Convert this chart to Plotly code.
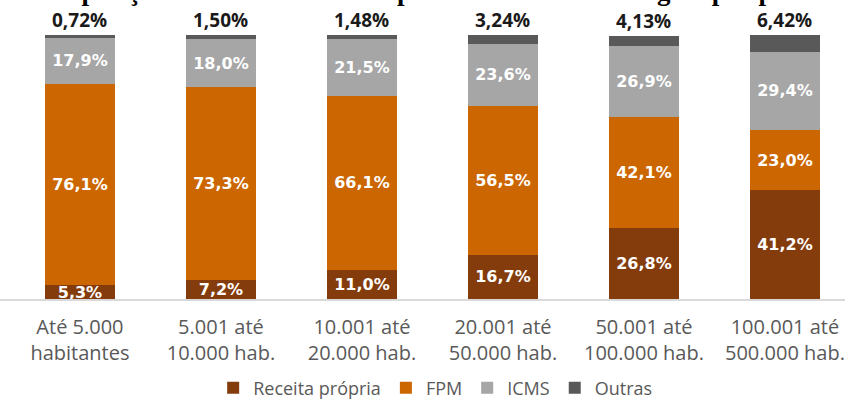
import plotly.graph_objects as go

categories = ["Até 5.000<br>habitantes", "5.001 até<br>10.000 hab.", "10.001 até<br>20.000 hab.",
              "20.001 até<br>50.000 hab.", "50.001 até<br>100.000 hab.", "100.001 até<br>500.000 hab."]
receita_propria = [5.3, 7.2, 11.0, 16.7, 26.8, 41.2]
fpm = [76.1, 73.3, 66.1, 56.5, 42.1, 23.0]
icms = [17.9, 18.0, 21.5, 23.6, 26.9, 29.4]
outras = [0.72, 1.50, 1.48, 3.24, 4.13, 6.42]
title_text = "Composição da receita corrente por tamanho da sua região por porte"

colors = {"Receita própria": "#843C0C", "FPM": "#CC6600", "ICMS": "#A6A6A6", "Outras": "#595959"}
xs = list(range(len(categories)))

fig = go.Figure()
inside_font = dict(family="DejaVu Sans", size=16, color="white")
for name, vals in [("Receita própria", receita_propria), ("FPM", fpm), ("ICMS", icms)]:
    fig.add_trace(go.Bar(
        x=xs, y=vals, name=name, width=0.5,
        marker=dict(color=colors[name], line=dict(width=0)),
        texttemplate="<b>%{y:.1f}%</b>", textposition="inside", insidetextanchor="middle",
        textangle=0, constraintext="none", textfont=inside_font, cliponaxis=False,
        hoverinfo="skip",
    ))
fig.add_trace(go.Bar(
    x=xs, y=outras, name="Outras", width=0.5,
    marker=dict(color=colors["Outras"], line=dict(width=0)),
    hoverinfo="skip",
))

for i in xs:
    total = receita_propria[i] + fpm[i] + icms[i] + outras[i]
    fig.add_annotation(
        x=i, y=total, xref="x", yref="y", yanchor="bottom", yshift=0,
        text="<b>" + f"{outras[i]:.2f}".replace(".", ",") + "%</b>",
        showarrow=False, font=dict(family="Open Sans", size=19, color="#1a1a1a"),
    )

fig.add_annotation(
    x=0.5, xref="paper", y=1.103, yref="paper", yanchor="bottom", xanchor="center",
    text="<b>" + title_text + "</b>", showarrow=False,
    font=dict(family="Liberation Serif", size=27, color="black"),
)

fig.update_layout(
    barmode="stack",
    width=845, height=400,
    margin=dict(l=0, r=0, t=35, b=101),
    paper_bgcolor="white", plot_bgcolor="white",
    separators=",.",
    showlegend=True,
    legend=dict(orientation="h", x=0.515, xanchor="center", xref="container",
                y=0.03, yanchor="middle", yref="container",
                font=dict(family="Open Sans", size=18, color="#595959"),
                traceorder="normal", itemwidth=30),
    xaxis=dict(
        range=[-0.567, 5.426], tickmode="array", tickvals=xs, ticktext=categories,
        showline=True, linecolor="#D9D9D9", linewidth=2, showgrid=False, zeroline=False,
        ticks="outside", ticklen=9, tickcolor="rgba(0,0,0,0)",
        tickfont=dict(family="Open Sans", size=20, color="#595959"),
        automargin=False,
    ),
    yaxis=dict(range=[0, 100.12], visible=False, showgrid=False, zeroline=False),
)

fig.write_html("out.html", config={"displayModeBar": False},
               post_script="document.body.style.margin='0';document.body.style.padding='0';document.body.style.overflow='hidden';")
